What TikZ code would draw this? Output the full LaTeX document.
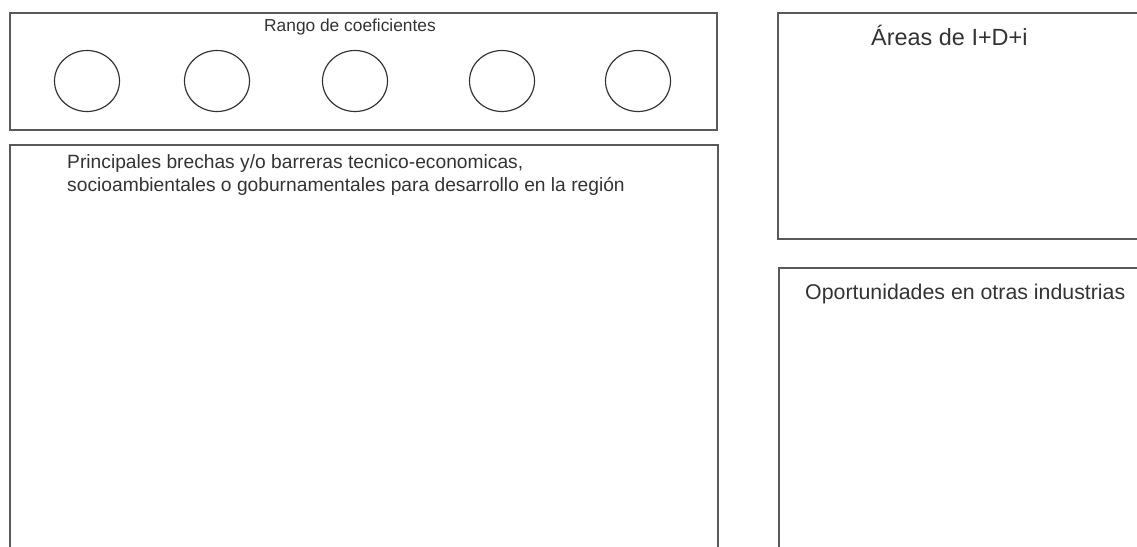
\documentclass[tikz,border=0pt]{standalone}
\usepackage{fontspec}
\setmainfont{Liberation Sans}
\usetikzlibrary{positioning,shapes.geometric}
\begin{document}
\begin{tikzpicture}[x=0.03cm, y=-0.03cm,
  panel/.style={draw=black!65, line width=1.3pt, rectangle, inner sep=0pt, anchor=north west},
  coef/.style={draw=black!80, line width=1pt, ellipse, minimum width=1.95cm, minimum height=1.83cm, inner sep=0pt},
  label/.style={text=black!80, inner sep=0pt}
]
  \useasboundingbox (0,0) rectangle (1137,546);
  \clip (0,0) rectangle (1137,546);
  % panels
  \node[panel, minimum width=21.21cm, minimum height=3.51cm] (rango) at (9,12) {};
  \node[panel, minimum width=21.24cm, minimum height=13.8cm] (brechas) at (9,144) {};
  \node[panel, minimum width=11.5cm, minimum height=6.78cm] (areas) at (777,12) {};
  \node[panel, minimum width=11.5cm, minimum height=10cm] (oport) at (778,267) {};
  % texts
  \node[label, font=\fontsize{14.8}{18}\selectfont] (rangotxt) at (350,27) {Rango de coeficientes};
  \node[label, anchor=west, font=\fontsize{20}{24}\selectfont] (areastxt) at (871,35) {Áreas de I+D+i};
  \node[label, anchor=west, font=\fontsize{18.2}{22}\selectfont] (oporttxt) at (805,294) {Oportunidades en otras industrias};
  \node[label, anchor=north west, align=left, font=\fontsize{16.4}{19.6}\selectfont] (brechastxt) at (67,154)
    {Principales brechas y/o barreras tecnico-economicas,\\socioambientales o goburnamentales para desarrollo en la región};
  % circles
  \foreach \x [count=\i] in {87,217,355,502,638}
    \node[coef] (c\i) at (\x,81) {};
\end{tikzpicture}
\end{document}
